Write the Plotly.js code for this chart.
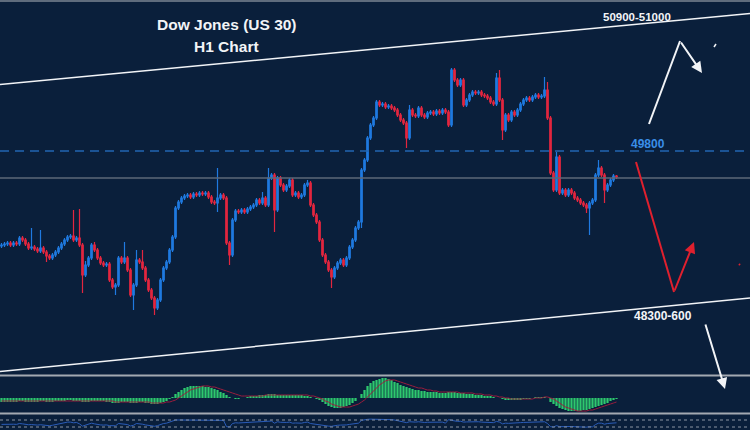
<!DOCTYPE html>
<html>
<head>
<meta charset="utf-8">
<script src="https://cdn.plot.ly/plotly-3.0.1.min.js"></script>
<style>
html,body{margin:0;padding:0;background:#0a1f3b;}
#chart{width:750px;height:430px;}
</style>
</head>
<body>
<div id="chart"></div>
<script>
// ---- Dow Jones (US 30) H1 candles (prices) ----
const openP = [
48945,48954,48963,48972,48954,48972,48963,49017,48999,48963,
48927,48936,48918,48900,48927,48891,48855,48837,48864,48891,
48927,48963,48999,49026,49035,48999,49017,48954,48684,48774,
48837,48954,48909,48837,48792,48774,48783,48639,48576,48594,
48837,48801,48837,48729,48504,48594,48819,48801,48747,48639,
48549,48477,48387,48459,48639,48747,48801,48909,49026,49287,
49341,49377,49395,49404,49386,49413,49404,49422,49413,49422,
49386,49341,49332,49377,49404,49377,48972,48864,49179,49260,
49251,49269,49251,49278,49296,49314,49359,49332,49377,49314,
49557,49584,49269,49557,49494,49449,49485,49539,49404,49422,
49386,49404,49494,49512,49314,49224,49161,48999,48864,48801,
48729,48666,48747,48792,48819,48774,48837,48936,48999,49107,
49161,49629,49719,49917,50034,50097,50241,50214,50223,50196,
50205,50187,50169,50124,50079,50052,49917,50169,50124,50115,
50187,50124,50106,50142,50151,50133,50160,50142,50169,50151,
50034,50529,50439,50394,50439,50214,50259,50304,50331,50322,
50331,50304,50295,50277,50241,50223,50457,50259,49989,50124,
50079,50151,50124,50169,50223,50259,50277,50259,50286,50304,
50286,50295,50349,50097,49602,49449,49746,49422,49449,49404,
49449,49422,49377,49359,49332,49314,49287,49332,49359,49584,
49647,49584,49449,49494,49539,49575];
const highP = [
48972,48981,48990,48990,48990,48990,49035,49035,49017,48981,
49107,48954,48936,49089,48945,48909,48873,48882,48909,48945,
48981,49017,49044,49053,49269,49035,49278,48972,48810,48855,
48972,48981,48927,48855,48810,48801,48801,48657,48612,48855,
48855,48981,48855,48747,48612,48909,48837,48909,48765,48657,
48567,48495,48477,48657,48765,48819,48927,49044,49305,49359,
49395,49413,49422,49422,49431,49431,49440,49440,49440,49440,
49404,49359,49647,49422,49422,49395,48990,49197,49278,49278,
49287,49287,49296,49314,49332,49377,49377,49431,49395,49647,
49602,49602,49575,49575,49512,49503,49557,49557,49440,49440,
49422,49512,49539,49530,49332,49242,49179,49017,48882,48819,
48747,48765,48810,48837,48837,48855,48954,49017,49125,49179,
49647,49737,49935,50052,50115,50259,50259,50241,50241,50223,
50223,50205,50187,50142,50097,50070,50214,50187,50142,50205,
50205,50142,50160,50169,50169,50178,50178,50187,50187,50169,
50547,50547,50457,50457,50457,50277,50322,50349,50349,50349,
50349,50322,50313,50295,50259,50502,50529,50277,50142,50142,
50169,50169,50187,50241,50277,50295,50295,50304,50322,50322,
50313,50466,50421,50115,49620,49791,49764,49467,49467,49467,
49467,49440,49395,49377,49350,49332,49350,49377,49602,49719,
49665,49602,49512,49557,49593,49584];
const lowP = [
48927,48936,48945,48936,48936,48945,48945,48981,48945,48909,
48909,48900,48882,48882,48873,48801,48819,48819,48846,48873,
48909,48945,48981,49008,48981,48981,48936,48522,48666,48756,
48819,48891,48819,48774,48756,48756,48621,48558,48504,48576,
48783,48783,48711,48486,48369,48576,48783,48729,48621,48531,
48459,48324,48369,48441,48621,48729,48783,48891,49008,49269,
49323,49359,49377,49368,49368,49386,49386,49395,49395,49368,
49323,49314,49251,49359,49359,48954,48774,48846,49161,49233,
49233,49233,49233,49260,49278,49296,49314,49314,49296,49296,
49539,49071,49251,49476,49431,49431,49467,49386,49386,49368,
49368,49386,49476,49296,49206,49143,48981,48846,48783,48711,
48567,48648,48729,48774,48756,48756,48819,48918,48981,49089,
49107,49611,49701,49899,50016,50079,50196,50196,50178,50178,
50169,50151,50106,50061,50034,49827,49899,50106,50097,50097,
50106,50088,50088,50124,50115,50115,50124,50124,50133,50016,
50016,50421,50376,50376,50196,50196,50241,50286,50304,50304,
50286,50277,50259,50223,50205,50205,50241,49899,49971,50061,
50061,50106,50106,50151,50205,50241,50241,50241,50268,50268,
50268,50277,50079,49584,49431,49431,49404,49404,49386,49386,
49404,49359,49341,49314,49296,49242,49044,49314,49341,49566,
49566,49332,49431,49476,49521,49548];
const closeP = [
48954,48963,48972,48954,48972,48963,49017,48999,48963,48927,
48936,48918,48900,48927,48891,48855,48837,48864,48891,48927,
48963,48999,49026,49035,48999,49017,48954,48684,48774,48837,
48954,48909,48837,48792,48774,48783,48639,48576,48594,48837,
48801,48837,48729,48504,48594,48819,48801,48747,48639,48549,
48477,48387,48459,48639,48747,48801,48909,49026,49287,49341,
49377,49395,49404,49386,49413,49404,49422,49413,49422,49386,
49341,49332,49377,49404,49377,48972,48864,49179,49260,49251,
49269,49251,49278,49296,49314,49359,49332,49377,49314,49557,
49584,49269,49557,49494,49449,49485,49539,49404,49422,49386,
49404,49494,49512,49314,49224,49161,48999,48864,48801,48729,
48666,48747,48792,48819,48774,48837,48936,48999,49107,49161,
49629,49719,49917,50034,50097,50241,50214,50223,50196,50205,
50187,50169,50124,50079,50052,49917,50169,50124,50115,50187,
50124,50106,50142,50151,50133,50160,50142,50169,50151,50034,
50529,50439,50394,50439,50214,50259,50304,50331,50322,50331,
50304,50295,50277,50241,50223,50457,50259,49989,50124,50079,
50151,50124,50169,50223,50259,50277,50259,50286,50304,50286,
50295,50349,50097,49602,49449,49746,49422,49449,49404,49449,
49422,49377,49359,49332,49314,49287,49332,49359,49584,49647,
49584,49449,49494,49539,49575,49566];

// ---- MACD panel: histogram and signal line ----
const macdHist = [
-4,-4,-4,-4,-4,-4,-3,-3,-4,-4,-4,-4,-4,-3,-3,-4,-4,-4,-3,-3,
-3,-3,-2,-2,-3,-3,-3,-4,-4,-4,-3,-3,-3,-3,-3,-4,-4,
-5,-5,-5,-4,-4,-4,-5,-5,-5,-4,-4,-5,-5,-6,-6,-6,
-5,-4,-3,-1,1,
4,6,8,10,11,12,12,12,12,
12,11,11,10,9,
8,6,5,3,1,0,
-1,-1,0,0,
1,2,2,2,3,3,3,4,4,4,3,3,3,3,3,3,3,3,3,2,2,
1,0,-1,-2,
-4,-6,-8,-9,-10,-10,-10,-9,-8,-7,-5,-3,
0,4,8,12,15,17,
18,19,20,20,19,18,16,15,
13,12,11,10,9,8,8,7,7,6,
6,6,6,5,5,5,6,6,
6,5,5,5,4,4,4,3,3,3,
2,2,2,1,0,0,
-1,-2,-2,-2,-2,-2,-2,-1,-1,-1,
0,1,1,1,1,0,
-4,-6,-8,-10,-11,-12,-13,-13,
-13,-13,-13,-12,-12,-11,-10,-9,
-8,-7,-6,-5,-3,-2,-1];
const macdSignal = [
-3,-3,-3,-3,-3,-3,-3,-3,-3,-3,-3,-3,-3,-3,-3,-3,-3,-3,-3,-3,
-3,-3,-3,-3,-3,-3,-3,-3,-3,-3,-3,-3,-3,-3,-3,-3,-3,
-3,-4,-4,-4,-4,-4,-4,-4,-4,-4,-4,-4,-4,-5,-5,-5,
-5,-5,-4,-4,-3,
-2,0,2,4,6,8,9,10,11,
12,12,12,11,11,
10,9,8,7,6,5,
4,3,2,2,
2,2,2,2,2,2,3,3,3,3,3,3,3,3,3,3,3,3,3,3,3,
2,2,1,0,
-1,-3,-4,-6,-7,-8,-9,-9,-9,-9,-8,-7,
-6,-4,-2,1,4,7,
10,13,15,17,18,18,18,17,
16,15,14,13,12,11,10,10,9,8,
8,7,7,6,6,6,6,6,
6,6,5,5,5,5,5,4,4,4,
3,3,3,2,2,1,
1,0,0,-1,-1,-1,-1,-1,-1,-1,
-1,0,0,0,1,1,
0,-1,-3,-5,-7,-9,-10,-11,
-12,-13,-13,-13,-13,-12,-12,-11,
-10,-9,-8,-7,-6,-5,-4];

// ---- RSI-style panel ----
const rsi = [
45,46,47,44,46,45,50,48,45,43,44,42,41,43,40,38,37,40,44,50,
54,56,58,58,54,56,48,35,42,46,52,48,44,42,41,42,38,
36,37,50,48,50,44,36,40,50,49,46,42,38,36,34,38,
45,50,52,57,62,
70,70,70,70,70,70,70,70,70,
70,70,68,66,66,
68,68,68,32,30,50,
54,53,54,53,
54,55,56,58,56,57,60,62,64,52,60,57,55,56,58,52,53,51,52,56,58,
50,47,45,40,
37,36,35,34,38,40,41,40,42,45,47,50,
52,68,72,74,75,75,
76,74,74,73,73,72,70,66,
64,62,55,60,58,58,60,57,56,57,
57,57,58,57,58,52,72,68,
64,62,63,58,59,60,60,59,60,58,
57,57,55,55,62,58,
48,52,51,53,52,54,55,56,56,57,
57,57,58,58,60,50,
32,30,38,32,33,32,34,33,
32,31,31,30,29,32,31,44,
52,52,46,50,52,54,54];

// ---- Levels and labels ----
const levelDashed = 49800;
const levelGray = 49557;
const rsiLevels = [70, 30];
const titleLines = ["Dow Jones (US 30)", "H1 Chart"];
const labelTop = "50900-51000";
const labelMid = "49800";
const labelLow = "48300-600";

const idx = closeP.map((_, i) => i);

const W = 750, H = 430;
const px = p => p / W;
const py = p => 1 - p / H;

const BG = '#0a1f3b';
const BLUE = '#1f7ae0';
const RED = '#e3263f';
const WHITE = '#f2f4f7';

const traces = [
  {
    type: 'candlestick', x: idx, open: openP, high: highP, low: lowP, close: closeP,
    xaxis: 'x', yaxis: 'y',
    increasing: {line: {color: BLUE, width: 1.2}, fillcolor: BLUE},
    decreasing: {line: {color: RED, width: 1.2}, fillcolor: RED},
    whiskerwidth: 0, hoverinfo: 'skip', showlegend: false
  },
  {
    type: 'bar', x: idx, y: macdHist, xaxis: 'x', yaxis: 'y2',
    marker: {color: 'rgb(46,200,110)', line: {width: 0}},
    hoverinfo: 'skip', showlegend: false
  },
  {
    type: 'scatter', mode: 'lines', x: idx, y: macdSignal, xaxis: 'x', yaxis: 'y2',
    line: {color: '#9a1d3d', width: 1, shape: 'spline'}, hoverinfo: 'skip', showlegend: false
  },
  {
    type: 'scatter', mode: 'lines', x: idx, y: rsi, xaxis: 'x', yaxis: 'y3',
    line: {color: '#2a5cb8', width: 1}, hoverinfo: 'skip', showlegend: false
  }
];

const shapes = [
  {type: 'line', xref: 'paper', yref: 'paper', x0: 0, x1: 1, y0: py(1), y1: py(1), line: {color: '#7d8794', width: 1.5}},
  {type: 'line', xref: 'paper', yref: 'paper', x0: 0, x1: 1, y0: py(375.5), y1: py(375.5), line: {color: '#a3a9b2', width: 2}},
  {type: 'line', xref: 'paper', yref: 'paper', x0: 0, x1: 1, y0: py(413.5), y1: py(413.5), line: {color: '#a3a9b2', width: 2}},
  {type: 'line', xref: 'paper', yref: 'y', x0: 0, x1: 1, y0: levelGray, y1: levelGray, line: {color: '#5d6978', width: 1.5}},
  {type: 'line', xref: 'paper', yref: 'y', x0: 0, x1: 1, y0: levelDashed, y1: levelDashed, line: {color: '#2266b3', width: 1.5, dash: '9px,6px'}},
  {type: 'line', xref: 'paper', yref: 'y3', x0: 0, x1: 1, y0: rsiLevels[0], y1: rsiLevels[0], line: {color: '#8b95a3', width: 1, dash: 'dot'}},
  {type: 'line', xref: 'paper', yref: 'y3', x0: 0, x1: 1, y0: rsiLevels[1], y1: rsiLevels[1], line: {color: '#8b95a3', width: 1, dash: 'dot'}},
  {type: 'line', xref: 'paper', yref: 'paper', x0: 0, x1: 1, y0: py(84.5), y1: py(13.5), line: {color: WHITE, width: 1.5}},
  {type: 'line', xref: 'paper', yref: 'paper', x0: 0, x1: 1, y0: py(371.5), y1: py(298), line: {color: WHITE, width: 1.5}},
  {type: 'line', xref: 'paper', yref: 'paper', x0: px(649), y0: py(124), x1: px(680), y1: py(41), line: {color: WHITE, width: 2}},
  {type: 'line', xref: 'paper', yref: 'paper', x0: px(714), y0: py(47), x1: px(716), y1: py(44), line: {color: WHITE, width: 1.5}},
  {type: 'line', xref: 'paper', yref: 'paper', x0: px(636), y0: py(162), x1: px(674), y1: py(292), line: {color: '#e0202e', width: 2}},
  {type: 'line', xref: 'paper', yref: 'paper', x0: px(739), y0: py(264), x1: px(740), y1: py(265), line: {color: '#e0202e', width: 2}}
];

const arrow = (hx, hy, tx, ty, color) => ({
  xref: 'paper', yref: 'paper', x: px(hx), y: py(hy), ax: tx - hx, ay: ty - hy,
  axref: 'pixel', ayref: 'pixel', text: '', showarrow: true,
  arrowhead: 2, arrowsize: 1.1, arrowwidth: 2, arrowcolor: color, standoff: 0, startstandoff: 0
});

const label = (text, x, y, size, color) => ({
  xref: 'paper', yref: 'paper', x: px(x), y: py(y), xanchor: 'center', yanchor: 'middle',
  text: '<b>' + text + '</b>', showarrow: false,
  font: {family: 'Liberation Sans, Arial, sans-serif', size: size, color: color}
});

const annotations = [
  label(titleLines[0], 227, 24, 15.5, WHITE),
  label(titleLines[1], 227, 46, 15.5, WHITE),
  label(labelTop, 637, 17, 11.5, WHITE),
  label(labelMid, 648, 144, 12, '#3a8ee8'),
  label(labelLow, 663, 316, 12, WHITE),
  arrow(702, 73, 680, 41, WHITE),
  arrow(694, 242, 674, 292, '#e0202e'),
  arrow(725, 389, 705, 323, WHITE)
];

const layout = {
  width: W, height: H,
  margin: {l: 0, r: 0, t: 0, b: 0, pad: 0},
  paper_bgcolor: BG, plot_bgcolor: BG,
  showlegend: false,
  bargap: 0.25,
  xaxis: {range: [-0.5, 249.5], visible: false, showgrid: false, zeroline: false,
          rangeslider: {visible: false}, fixedrange: true},
  yaxis: {domain: [1 - 374 / H, 1], range: [47793, 51159], visible: false, showgrid: false, zeroline: false, fixedrange: true},
  yaxis2: {domain: [1 - 413 / H, 1 - 377 / H], range: [-15, 21], anchor: 'x', visible: false, showgrid: false, zeroline: false, fixedrange: true},
  yaxis3: {domain: [0, 1 - 416 / H], range: [12.9, 92.9], anchor: 'x', visible: false, showgrid: false, zeroline: false, fixedrange: true},
  shapes: shapes,
  annotations: annotations
};

Plotly.newPlot('chart', traces, layout, {staticPlot: true, displayModeBar: false});
</script>
</body>
</html>
